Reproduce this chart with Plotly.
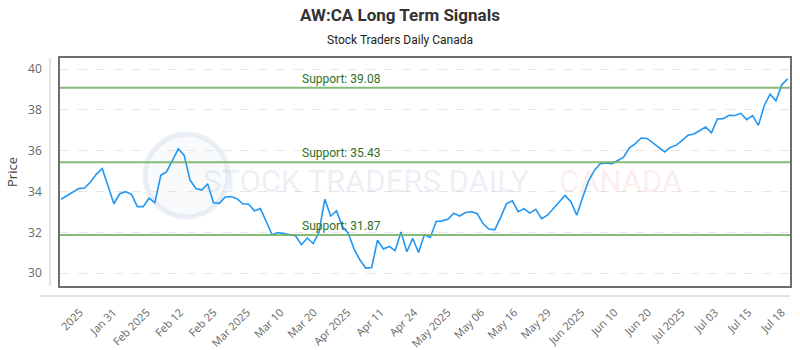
import numpy as np
import plotly.graph_objects as go

prices = [
    33.62, 33.80, 33.99, 34.14, 34.17, 34.46, 34.84, 35.13, 34.27, 33.40,
    33.89, 33.99, 33.86, 33.26, 33.26, 33.67, 33.45, 34.79, 34.97, 35.57,
    36.09, 35.77, 34.56, 34.14, 34.07, 34.38, 33.45, 33.42, 33.73, 33.75,
    33.65, 33.40, 33.38, 33.05, 33.16, 32.53, 31.88, 31.99, 31.94, 31.91,
    31.83, 31.39, 31.72, 31.45, 31.99, 33.62, 32.80, 33.05, 32.28, 31.96,
    31.18, 30.64, 30.25, 30.28, 31.62, 31.18, 31.31, 31.10, 32.02, 31.05,
    31.70, 31.01, 31.88, 31.75, 32.53, 32.56, 32.64, 32.94, 32.80, 32.97,
    33.01, 32.92, 32.43, 32.16, 32.12, 32.72, 33.40, 33.54, 33.01, 33.16,
    32.94, 33.13, 32.67, 32.84, 33.16, 33.45, 33.81, 33.50, 32.84, 33.70,
    34.51, 35.03, 35.36, 35.40, 35.36, 35.52, 35.68, 36.14, 36.35, 36.62,
    36.60, 36.38, 36.17, 35.94, 36.17, 36.27, 36.50, 36.76, 36.82, 37.00,
    37.16, 36.87, 37.55, 37.57, 37.73, 37.72, 37.83, 37.52, 37.72, 37.24,
    38.20, 38.77, 38.45, 39.23, 39.52,
]
tick_labels = [
    "2025", "Jan 31", "Feb 2025", "Feb 12", "Feb 25", "Mar 2025", "Mar 10",
    "Mar 20", "Apr 2025", "Apr 11", "Apr 24", "May 2025", "May 06", "May 16",
    "May 29", "Jun 2025", "Jun 10", "Jun 20", "Jul 2025", "Jul 03", "Jul 15",
    "Jul 18",
]
support_levels = [39.08, 35.43, 31.87]
y_ticks = [30, 32, 34, 36, 38, 40]

x_idx = list(range(len(prices)))
tick_pos = list(np.linspace(3.2, 123.0, len(tick_labels)))

fig = go.Figure()
fig.add_trace(go.Scatter(
    x=x_idx, y=prices, mode="lines",
    line=dict(color="#2196f3", width=1.6),
    hoverinfo="skip", showlegend=False,
))

shapes = []
annotations = []

# watermark
shapes.append(dict(type="circle", xref="paper", yref="paper",
                   x0=(145 - 60) / 730, x1=(228 - 60) / 730,
                   y0=(286 - 217) / 228, y1=(286 - 134) / 228,
                   line=dict(color="rgba(180,195,220,0.25)", width=5),
                   fillcolor="rgba(200,210,230,0.12)", layer="below"))
annotations.append(dict(text="STOCK TRADERS DAILY", xref="paper", yref="paper",
                        x=(366 - 60) / 730, y=(286 - 181) / 228, showarrow=False,
                        yanchor="middle", xanchor="center",
                        font=dict(family="Roboto", size=31,
                                  color="rgba(170,185,210,0.22)")))
annotations.append(dict(text="CANADA", xref="paper", yref="paper",
                        x=(620 - 60) / 730, y=(286 - 181) / 228, showarrow=False,
                        yanchor="middle", xanchor="center",
                        font=dict(family="Roboto", size=31, color="rgba(240,120,120,0.15)")))

for lvl in support_levels:
    shapes.append(dict(type="line", xref="paper", yref="y", x0=0, x1=1, y0=lvl, y1=lvl,
                       line=dict(color="rgba(110,175,95,0.85)", width=2), layer="above"))
    annotations.append(dict(text=f"Support: {lvl:.2f}", xref="paper", yref="y",
                            x=(300 - 60) / 730, y=lvl, yshift=9, showarrow=False,
                            yanchor="middle",
                            font=dict(family="Roboto", size=12, color="#2f6f25")))

# offset axis lines
shapes.append(dict(type="line", xref="paper", yref="paper",
                   x0=-10 / 730, x1=-10 / 730, y0=0, y1=1,
                   line=dict(color="#c8c8c8", width=1)))
shapes.append(dict(type="line", xref="paper", yref="paper",
                   x0=-20 / 730, x1=1, y0=-10 / 228, y1=-10 / 228,
                   line=dict(color="#c8c8c8", width=1)))

annotations.append(dict(text="<b>AW:CA Long Term Signals</b>", xref="paper", yref="paper",
                        x=(400 - 60) / 730, y=(286 - 15) / 228, showarrow=False,
                        yanchor="middle",
                        font=dict(family="Roboto", size=17, color="#333333")))
annotations.append(dict(text="Stock Traders Daily Canada", xref="paper", yref="paper",
                        x=(400 - 60) / 730, y=(286 - 40) / 228, showarrow=False,
                        yanchor="middle",
                        font=dict(family="Roboto", size=12, color="#222222")))

fig.update_layout(
    width=800, height=350,
    margin=dict(l=60, r=10, t=58, b=64, autoexpand=False),
    paper_bgcolor="white", plot_bgcolor="white",
    shapes=shapes, annotations=annotations,
    xaxis=dict(
        range=[-0.2, len(prices) - 0.6], automargin=False,
        tickmode="array", tickvals=tick_pos, ticktext=tick_labels,
        tickangle=-45, ticks="outside", ticklen=14, tickcolor="rgba(0,0,0,0)",
        tickfont=dict(family="Open Sans", size=11, color="#666666"),
        showgrid=False, zeroline=False,
        showline=True, linecolor="#6e6e6e", linewidth=1.5, mirror=True,
    ),
    yaxis=dict(
        range=[29.37, 40.54], automargin=False,
        tickmode="array", tickvals=y_ticks,
        ticks="outside", ticklen=14, tickcolor="rgba(0,0,0,0)",
        tickfont=dict(family="Open Sans", size=12, color="#666666"),
        showgrid=True, gridcolor="#e6e6e6", griddash="dash", gridwidth=1,
        zeroline=False,
        showline=True, linecolor="#6e6e6e", linewidth=1.5, mirror=True,
        title=dict(text="Price", font=dict(family="Open Sans", size=13, color="#444444"),
                   standoff=8),
    ),
)

fig.write_html("out.html")
